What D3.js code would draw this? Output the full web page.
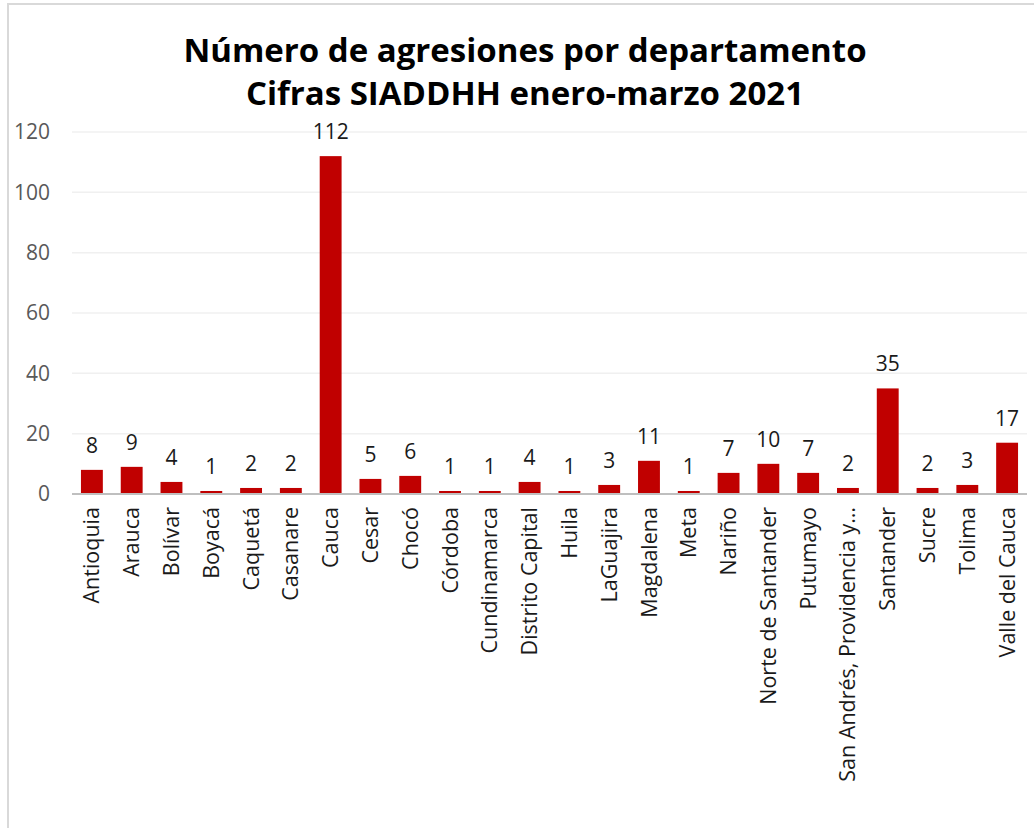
<!DOCTYPE html>
<html>
<head>
<meta charset="utf-8">
<script src="https://cdn.jsdelivr.net/npm/d3@7"></script>
<style>
  body { margin: 0; background: #fff; }
  svg text { font-family: "Open Sans", sans-serif; }
</style>
</head>
<body>
<div id="chart"></div>
<script>
// Data
const departamentos = ["Antioquia", "Arauca", "Bolívar", "Boyacá", "Caquetá", "Casanare", "Cauca",
  "Cesar", "Chocó", "Córdoba", "Cundinamarca", "Distrito Capital", "Huila", "LaGuajira",
  "Magdalena", "Meta", "Nariño", "Norte de Santander", "Putumayo",
  "San Andrés, Providencia y…", "Santander", "Sucre", "Tolima", "Valle del Cauca"];
const agresiones = [8, 9, 4, 1, 2, 2, 112, 5, 6, 1, 1, 4, 1, 3, 11, 1, 7, 10, 7, 2, 35, 2, 3, 17];
const yTicks = [0, 20, 40, 60, 80, 100, 120];
const titleLines = ["Número de agresiones por departamento", "Cifras SIADDHH enero-marzo 2021"];

const W = 1034, H = 828;
const plot = {left: 72, right: 1027, top: 132, bottom: 494};

const svg = d3.select("#chart").append("svg")
    .attr("width", W)
    .attr("height", H);

// chart frame
svg.append("rect")
    .attr("x", 8).attr("y", 4)
    .attr("width", W + 20).attr("height", H + 20)
    .attr("fill", "#fff")
    .attr("stroke", "#d9d9d9")
    .attr("stroke-width", 2);

const data = departamentos.map((d, i) => ({name: d, value: agresiones[i]}));

const x = d3.scaleBand()
    .domain(departamentos)
    .range([plot.left, plot.right])
    .paddingInner(0.45)
    .paddingOuter(0.225);

const y = d3.scaleLinear()
    .domain([0, 120])
    .range([plot.bottom, plot.top]);

// gridlines
svg.append("g")
    .selectAll("line")
    .data(yTicks.filter(t => t > 0))
    .join("line")
    .attr("x1", plot.left).attr("x2", plot.right)
    .attr("y1", d => y(d)).attr("y2", d => y(d))
    .attr("stroke", "#f0f0f0")
    .attr("stroke-width", 1.5);

// y axis labels
const yAxis = svg.append("g")
    .attr("transform", `translate(${plot.left},0)`)
    .call(d3.axisLeft(y).tickValues(yTicks).tickSize(0).tickPadding(22));
yAxis.select(".domain").remove();
yAxis.selectAll("text")
    .attr("fill", "#595959")
    .style("font-size", "21px");

// bars
svg.append("g")
    .selectAll("rect")
    .data(data)
    .join("rect")
    .attr("x", d => x(d.name))
    .attr("width", x.bandwidth())
    .attr("y", d => y(d.value))
    .attr("height", d => y(0) - y(d.value))
    .attr("fill", "#c00000");

// value labels
svg.append("g")
    .selectAll("text")
    .data(data)
    .join("text")
    .attr("x", d => x(d.name) + x.bandwidth() / 2)
    .attr("y", d => y(d.value) - 17)
    .attr("text-anchor", "middle")
    .attr("fill", "#1a1a1a")
    .style("font-size", "21px")
    .text(d => d.value);

// x axis
const xAxis = svg.append("g")
    .attr("transform", `translate(0,${plot.bottom})`)
    .call(d3.axisBottom(x).tickSize(0).tickSizeOuter(0));
xAxis.select(".domain")
    .attr("stroke", "#bfbfbf")
    .attr("stroke-width", 2)
    .attr("d", `M${plot.left},0H${plot.right}`);
xAxis.selectAll("text")
    .attr("transform", "rotate(-90)")
    .attr("text-anchor", "end")
    .attr("x", -13)
    .attr("y", 0)
    .attr("dy", "0.35em")
    .attr("fill", "#1a1a1a")
    .style("font-size", "21.5px");

// title
svg.append("g")
    .selectAll("text")
    .data(titleLines)
    .join("text")
    .attr("x", 525)
    .attr("y", (d, i) => 62 + i * 43)
    .attr("text-anchor", "middle")
    .attr("fill", "#000")
    .style("font-size", "33px")
    .style("font-weight", "bold")
    .text(d => d);
</script>
</body>
</html>
